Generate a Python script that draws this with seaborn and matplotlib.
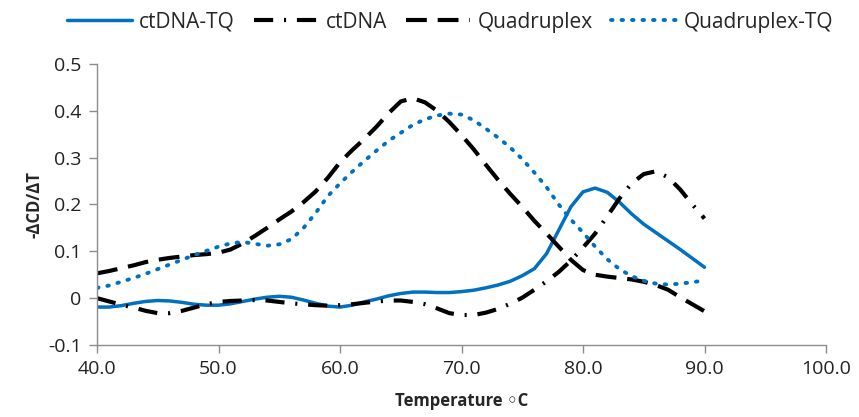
import matplotlib
matplotlib.use("Agg")
import matplotlib.pyplot as plt
import pandas as pd
import seaborn as sns

# Temperature (°C) and first derivative of the CD signal for each sample
temperature = list(range(40, 91))

ctdna_tq = [-0.019, -0.019, -0.016, -0.011, -0.007, -0.005, -0.006, -0.009,
            -0.013, -0.015, -0.015, -0.012, -0.007, -0.002, 0.002, 0.004,
            0.002, -0.004, -0.011, -0.017, -0.019, -0.015, -0.008, -0.002,
            0.005, 0.010, 0.013, 0.013, 0.012, 0.012, 0.014, 0.017, 0.022,
            0.028, 0.036, 0.048, 0.063, 0.095, 0.145, 0.195, 0.227, 0.235,
            0.226, 0.205, 0.180, 0.158, 0.140, 0.122, 0.104, 0.085, 0.066]

ctdna = [0.000, -0.007, -0.014, -0.020, -0.027, -0.032, -0.032, -0.027,
         -0.020, -0.013, -0.008, -0.006, -0.005, -0.004, -0.005, -0.008,
         -0.011, -0.013, -0.015, -0.016, -0.015, -0.013, -0.010, -0.007,
         -0.005, -0.005, -0.008, -0.013, -0.022, -0.032, -0.036, -0.036,
         -0.031, -0.023, -0.012, 0.001, 0.018, 0.036, 0.056, 0.080, 0.108,
         0.138, 0.175, 0.213, 0.245, 0.265, 0.271, 0.258, 0.232, 0.200, 0.170]

quadruplex = [0.053, 0.058, 0.064, 0.070, 0.077, 0.082, 0.086, 0.089, 0.092,
              0.094, 0.097, 0.104, 0.117, 0.133, 0.150, 0.168, 0.185, 0.205,
              0.228, 0.257, 0.290, 0.316, 0.340, 0.366, 0.395, 0.420, 0.427,
              0.418, 0.400, 0.376, 0.348, 0.318, 0.285, 0.253, 0.223, 0.195,
              0.165, 0.138, 0.110, 0.082, 0.060, 0.050, 0.046, 0.043, 0.040,
              0.035, 0.028, 0.018, 0.002, -0.013, -0.028]

quadruplex_tq = [0.022, 0.027, 0.035, 0.043, 0.052, 0.062, 0.072, 0.082,
                 0.092, 0.101, 0.110, 0.117, 0.120, 0.116, 0.112, 0.115,
                 0.126, 0.150, 0.182, 0.218, 0.245, 0.270, 0.293, 0.315,
                 0.336, 0.353, 0.370, 0.382, 0.390, 0.394, 0.392, 0.380,
                 0.362, 0.343, 0.322, 0.297, 0.268, 0.237, 0.200, 0.168,
                 0.140, 0.110, 0.083, 0.062, 0.047, 0.037, 0.031, 0.029,
                 0.031, 0.034, 0.038]

series_names = ["ctDNA-TQ", "ctDNA", "Quadruplex", "Quadruplex-TQ"]
x_ticks = [40.0, 50.0, 60.0, 70.0, 80.0, 90.0, 100.0]
y_ticks = [-0.1, 0, 0.1, 0.2, 0.3, 0.4, 0.5]
y_tick_labels = ["-0.1", "0", "0.1", "0.2", "0.3", "0.4", "0.5"]

sns.set_theme(style="white")
plt.rcParams["font.family"] = ["Open Sans", "DejaVu Sans"]

blue = "#0070C0"
styles = {
    "ctDNA-TQ": dict(color=blue, lw=2.5, dashes=None, cap="round"),
    "ctDNA": dict(color="black", lw=3.0, dashes=(4.6, 2.6, 0.5, 2.6), cap="butt"),
    "Quadruplex": dict(color="black", lw=3.0, dashes=(5.0, 2.6), cap="butt"),
    "Quadruplex-TQ": dict(color=blue, lw=2.8, dashes=(0.4, 2.3), cap="round"),
}
values = {"ctDNA-TQ": ctdna_tq, "ctDNA": ctdna,
          "Quadruplex": quadruplex, "Quadruplex-TQ": quadruplex_tq}

fig = plt.figure(figsize=(8.59, 4.17), dpi=100)
ax = fig.add_axes([97 / 859, 1 - 345 / 417, (826 - 97) / 859, (345 - 64) / 417])

handles = []
for name in series_names:
    df = pd.DataFrame({"T": temperature, "v": values[name]})
    st = styles[name]
    sns.lineplot(data=df, x="T", y="v", ax=ax, color=st["color"], lw=st["lw"],
                 label=name, legend=False)
    line = ax.lines[-1]
    if st["dashes"] is not None:
        line.set_dashes(st["dashes"])
    line.set_solid_capstyle("round")
    line.set_solid_joinstyle("round")
    line.set_dash_capstyle(st["cap"])
    handles.append(line)

ax.set_xlim(40, 100)
ax.set_ylim(-0.1, 0.5)
ax.set_xticks(x_ticks)
ax.set_xticklabels([f"{t:.1f}" for t in x_ticks])
ax.set_yticks(y_ticks)
ax.set_yticklabels(y_tick_labels)

for side in ["top", "right"]:
    ax.spines[side].set_visible(False)
for side in ["left", "bottom"]:
    ax.spines[side].set_color("#8c8c8c")
    ax.spines[side].set_linewidth(1.0)

ax.tick_params(axis="both", which="major", direction="out", length=6,
               width=1.0, color="#8c8c8c", labelsize=14, labelcolor="#222222",
               pad=5, left=True, bottom=True)

ax.set_xlabel("Temperature \u25e6C", fontsize=12, fontweight="bold", labelpad=10)
ax.set_ylabel("-\u0394CD/\u0394T", fontsize=12, fontweight="bold", labelpad=3)

fig.legend(handles=handles, labels=series_names, loc="center",
           bbox_to_anchor=(0.524, 0.947), ncol=4, frameon=False, fontsize=15,
           handlelength=3.1, columnspacing=0.9, handletextpad=0.35)

fig.savefig("out.png", dpi=100)
